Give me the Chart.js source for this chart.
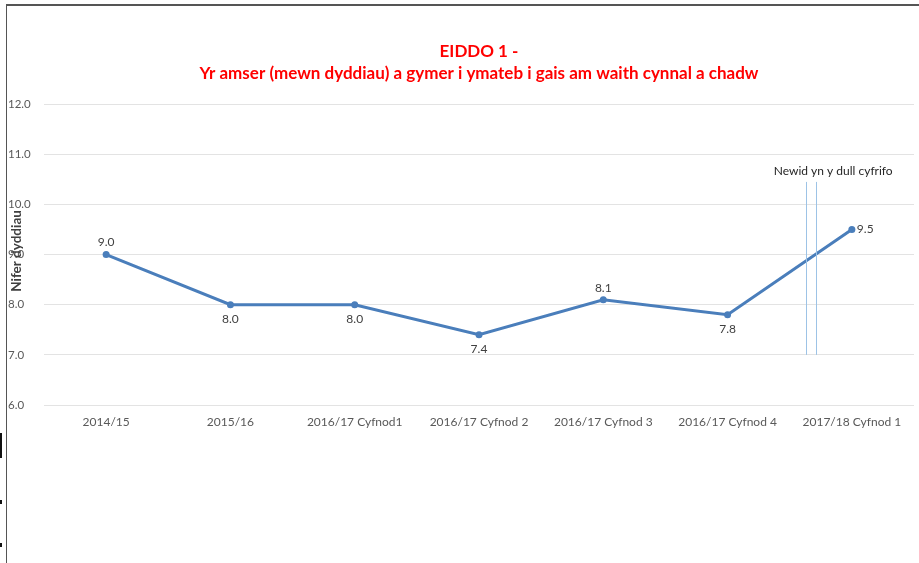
<!DOCTYPE html>
<html>
<head>
<meta charset="utf-8">
<script src="https://cdn.jsdelivr.net/npm/chart.js@4"></script>
<style>
  html, body { margin: 0; padding: 0; background: #fff; }
  #wrap { position: relative; width: 919px; height: 563px; }
  #frame { position: absolute; left: 6px; top: 4px; right: 0; bottom: 0;
           border-left: 1px solid #555; border-top: 2px solid #555; pointer-events: none; }
  .mark { position: absolute; left: 0; width: 2px; background: #111; }
</style>
</head>
<body>
<div id="wrap">
  <canvas id="chart" width="919" height="563"></canvas>
  <div id="frame"></div>
  <div class="mark" style="top:433px;height:25px"></div>
  <div class="mark" style="top:500px;height:4px"></div>
  <div class="mark" style="top:543px;height:4px"></div>
</div>
<script>
const periods = ['2014/15', '2015/16', '2016/17 Cyfnod1', '2016/17 Cyfnod 2',
                 '2016/17 Cyfnod 3', '2016/17 Cyfnod 4', '2017/18 Cyfnod 1'];
const days = [9.0, 8.0, 8.0, 7.4, 8.1, 7.8, 9.5];
const labelSide = ['above', 'below', 'below', 'below', 'above', 'below', 'right'];
const yTicks = [6, 7, 8, 9, 10, 11, 12];

// the "change of method" marker between the last two periods
const changeNote = 'Newid yn y dull cyfrifo';
const changeAt = [5.63, 5.71];
const changeSpan = [7.0, 10.45];

const textFont = 'Lato, "Open Sans", sans-serif';

const extras = {
    id: 'extras',
    afterDatasetsDraw(chart) {
        const ctx = chart.ctx;
        const x = chart.scales.x, y = chart.scales.y;

        // vertical marker lines + note
        ctx.save();
        ctx.strokeStyle = '#9dc3e6';
        ctx.lineWidth = 1;
        changeAt.forEach(v => {
            const px = Math.round(x.getPixelForValue(v)) + 0.5;
            ctx.beginPath();
            ctx.moveTo(px, y.getPixelForValue(changeSpan[1]));
            ctx.lineTo(px, y.getPixelForValue(changeSpan[0]));
            ctx.stroke();
        });
        ctx.fillStyle = '#262626';
        ctx.font = '12px ' + textFont;
        ctx.textAlign = 'center';
        ctx.textBaseline = 'middle';
        ctx.fillText(changeNote, x.getPixelForValue(5.85), y.getPixelForValue(10.66));

        // data labels
        ctx.fillStyle = '#404040';
        ctx.font = '12px ' + textFont;
        const meta = chart.getDatasetMeta(0);
        meta.data.forEach((pt, i) => {
            const txt = days[i].toFixed(1);
            if (labelSide[i] === 'right') {
                ctx.textAlign = 'left';
                ctx.fillText(txt, pt.x + 5, pt.y);
            } else {
                ctx.textAlign = 'center';
                ctx.fillText(txt, pt.x, labelSide[i] === 'above' ? pt.y - 12 : pt.y + 14);
            }
        });

        // y axis title, sitting over the tick labels like the original
        ctx.translate(17, 251);
        ctx.rotate(-Math.PI / 2);
        ctx.font = 'bold 13.5px ' + textFont;
        ctx.fillStyle = '#404040';
        ctx.textAlign = 'center';
        ctx.fillText('Nifer dyddiau', 0, 0);
        ctx.restore();
    }
};

new Chart(document.getElementById('chart').getContext('2d'), {
    type: 'line',
    data: {
        labels: periods,
        datasets: [{
            label: 'Nifer dyddiau',
            data: days,
            borderColor: '#4a7ebb',
            backgroundColor: '#4a7ebb',
            borderWidth: 3,
            tension: 0,
            pointRadius: 3.5,
            pointBackgroundColor: '#4a7ebb',
            pointBorderWidth: 0
        }]
    },
    options: {
        responsive: false,
        animation: false,
        layout: { padding: { left: 8, right: 5, top: 0, bottom: 128 } },
        plugins: {
            legend: { display: false },
            tooltip: { enabled: false },
            title: {
                display: true,
                fullSize: false,
                text: ['EIDDO 1 -', 'Yr amser (mewn dyddiau) a gymer i ymateb i gais am waith cynnal a chadw'],
                color: '#ff0000',
                font: { family: textFont, size: 17, weight: 'bold', lineHeight: 1.3 },
                padding: { top: 40, bottom: 20 }
            }
        },
        scales: {
            x: {
                offset: true,
                grid: { display: false },
                border: { display: false },
                ticks: { color: '#595959', font: { family: textFont, size: 12 }, maxRotation: 0, padding: 2 },
                afterFit(s) { s.height = 30; }
            },
            y: {
                min: 6,
                max: 12,
                afterBuildTicks(s) { s.ticks = yTicks.map(v => ({ value: v })); },
                grid: { color: '#e3e3e3', drawTicks: false },
                border: { display: false },
                ticks: {
                    color: '#595959',
                    font: { family: textFont, size: 11.5 },
                    crossAlign: 'far',
                    padding: 12,
                    callback: v => Number(v).toFixed(1)
                },
                afterFit(s) { s.width = 36; }
            }
        }
    },
    plugins: [extras]
});
</script>
</body>
</html>
